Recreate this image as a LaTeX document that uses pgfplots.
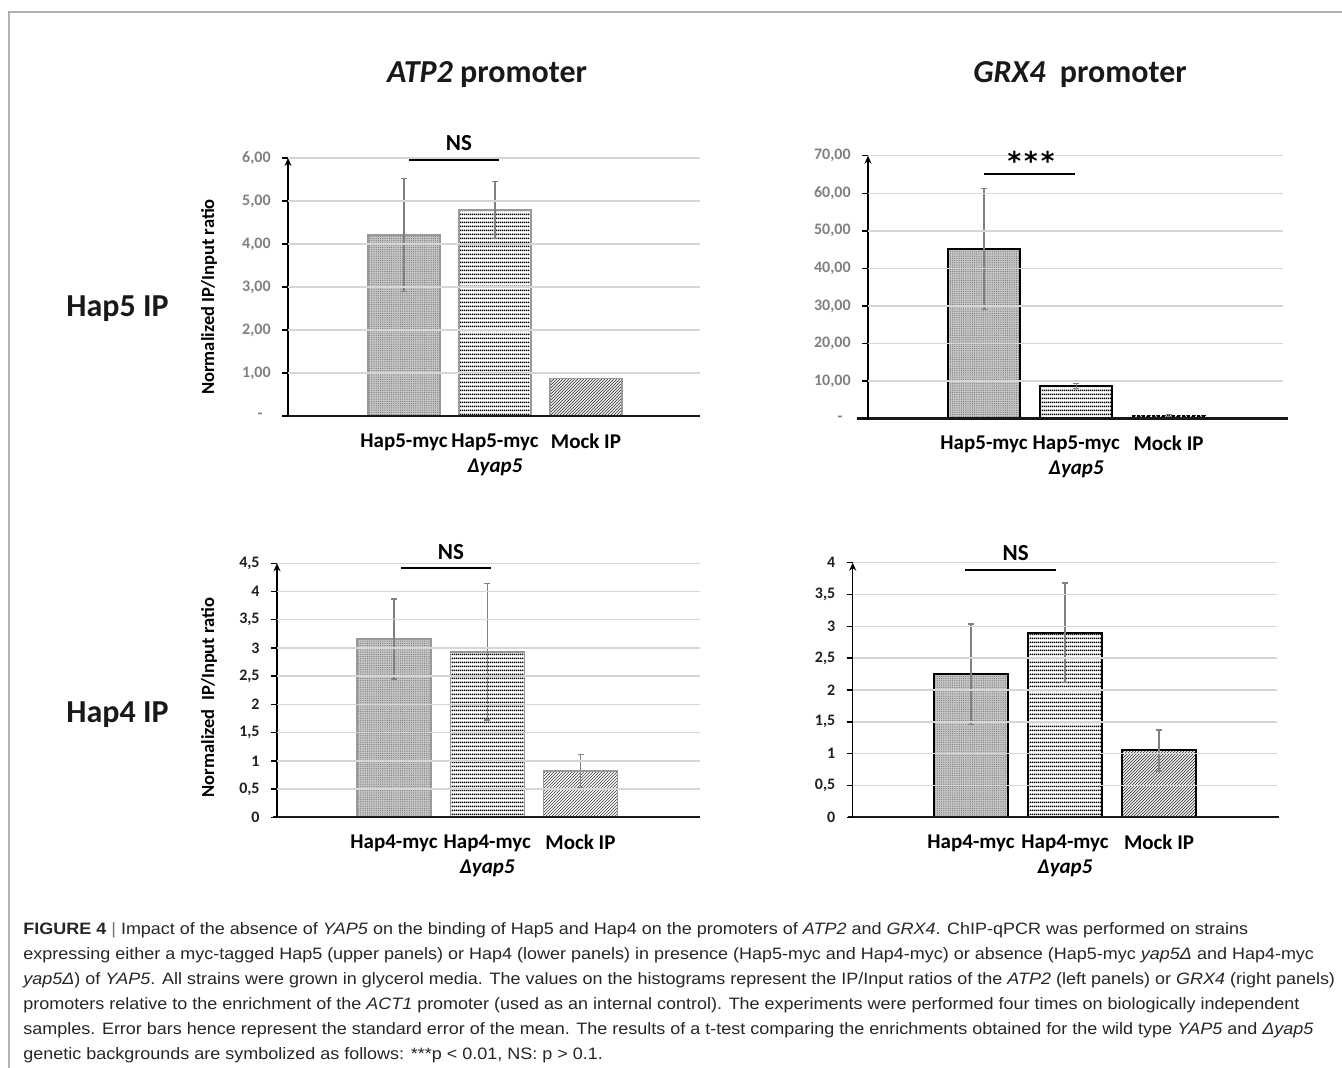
\documentclass[border=0pt]{standalone}
\usepackage{pgfplots}
\pgfplotsset{compat=1.18}
\usepackage{fontspec}
\setmainfont{Carlito}
\newfontfamily\capfont[FakeStretch=1.09]{Liberation Sans}
\newfontfamily\djv{DejaVu Sans}
\usetikzlibrary{patterns,arrows.meta}

\pgfdeclarepatternformonly{fdots}{\pgfpoint{-0.3pt}{-0.3pt}}{\pgfpoint{0.3pt}{0.3pt}}{\pgfpoint{1.1pt}{1.1pt}}{\pgfpathcircle{\pgfpointorigin}{0.3pt}\pgfusepath{fill}}
\pgfdeclarepatternformonly{hlines}{\pgfpoint{0pt}{0pt}}{\pgfpoint{1pt}{2pt}}{\pgfpoint{1pt}{2pt}}{\pgfsetlinewidth{0.8pt}\pgfpathmoveto{\pgfpoint{-0.1pt}{1pt}}\pgfpathlineto{\pgfpoint{1.1pt}{1pt}}\pgfusepath{stroke}}
\pgfdeclarepatternformonly{dlines}{\pgfpoint{-0.1pt}{-0.1pt}}{\pgfpoint{1.6pt}{1.6pt}}{\pgfpoint{1.5pt}{1.5pt}}{\pgfsetlinewidth{0.35pt}\pgfpathmoveto{\pgfpoint{-0.1pt}{-0.1pt}}\pgfpathlineto{\pgfpoint{1.6pt}{1.6pt}}\pgfusepath{stroke}}

\pgfplotsset{
  panel/.style={
    scale only axis, clip=false, axis on top,
    axis line style={draw=none},
    xtick={1,2,3}, xtick style={draw=none},
    ytick pos=left,
    ymajorgrids, grid style={draw=black!16, line width=0.75pt},
    tick align=outside, major tick length=3pt,
    ytick style={draw=black, line width=0.7pt},
    yticklabel style={font=\fontsize{8}{9.6}\selectfont\bfseries, inner sep=0pt, anchor=east, xshift=-5.5pt},
    xticklabel style={font=\fontsize{10.5}{12.5}\selectfont\bfseries, align=center, anchor=north, inner sep=0pt, yshift=-5.5pt},
    extra y tick style={grid=none},
  },
  b1/.style={ybar, bar shift=0pt, fill=black!22, postaction={pattern=fdots, pattern color=black!55}},
  b2/.style={ybar, bar shift=0pt, fill=white, postaction={pattern=hlines, pattern color=black}},
  b3/.style={ybar, bar shift=0pt, fill=white, postaction={pattern=dlines, pattern color=black!75}},
  eb/.style={draw=none, mark=none, forget plot,
    error bars/.cd, y dir=both, y explicit,
    error bar style={draw=black!50, line width=0.75pt, solid},
    error mark options={rotate=90, draw=black!50, mark size=1.5pt, line width=0.75pt}},
}

\begin{document}
\begin{tikzpicture}
\path[use as bounding box] (0,0) rectangle (671pt,534pt);

% ---------------- Panel 1: ATP2, Hap5 IP
\begin{axis}[panel, at={(144pt,326pt)}, anchor=south west, width=206pt, height=129pt,
  xmin=-0.2747, xmax=4.2527, ymin=0, ymax=6,
  ytick={1,2,3,4,5,6}, yticklabels={{1,00},{2,00},{3,00},{4,00},{5,00},{6,00}},
  extra y ticks={0}, extra y tick labels={{-\hspace*{4pt}}},
  yticklabel style={text=black!50},
  xticklabels={Hap5-myc,{Hap5-myc\\\textit{Δyap5}},Mock IP}]
\addplot[b1, bar width=36pt, draw=black!40, line width=0.75pt] coordinates {(1,4.21)};
\addplot[b2, bar width=36pt, draw=black!40, line width=0.75pt] coordinates {(2,4.79)};
\addplot[b3, bar width=36pt, draw=black!40, line width=0.75pt] coordinates {(3,0.87)};
\addplot[eb] coordinates {(1,4.21) +- (0,1.31) (2,4.79) +- (0,0.66)};
\draw[line width=1.2pt, black!90] ([xshift=-2pt]rel axis cs:0,0) -- (rel axis cs:1,0);
\draw[line width=0.75pt, -{Stealth[length=4pt,width=3.5pt]}] (rel axis cs:0,0) -- (rel axis cs:0,1);
\end{axis}

% ---------------- Panel 2: GRX4, Hap5 IP
\begin{axis}[panel, at={(434pt,324.65pt)}, anchor=south west, width=207.5pt, height=131.5pt,
  xmin=-0.2575, xmax=4.241, ymin=0, ymax=70,
  ytick={10,20,30,40,50,60,70}, yticklabels={{10,00},{20,00},{30,00},{40,00},{50,00},{60,00},{70,00}},
  extra y ticks={0}, extra y tick labels={{-\hspace*{4pt}}},
  yticklabel style={text=black!50},
  xticklabels={Hap5-myc,{Hap5-myc\\\textit{Δyap5}},Mock IP}]
\addplot[b1, bar width=36pt, draw=black, line width=1pt] coordinates {(1,45.2)};
\addplot[b2, bar width=36pt, draw=black, line width=1pt] coordinates {(2,8.7)};
\addplot[b3, bar width=36pt, draw=black, line width=1pt, dash pattern=on 1.5pt off 1pt] coordinates {(3,0.8)};
\addplot[eb] coordinates {(1,45.2) +- (0,16.1) (2,8.7) +- (0,0.6) (3,0.8) +- (0,0.3)};
\draw[line width=1.2pt, black!90] ([xshift=-5.5pt]rel axis cs:0,0) -- ([xshift=2.5pt]rel axis cs:1,0);
\draw[line width=0.75pt, -{Stealth[length=4pt,width=3.5pt]}] (rel axis cs:0,0) -- (rel axis cs:0,1);
\end{axis}

% ---------------- Panel 3: ATP2, Hap4 IP
\begin{axis}[panel, at={(138.5pt,125.35pt)}, anchor=south west, width=211.5pt, height=127pt,
  xmin=-0.2547, xmax=4.2815, ymin=0, ymax=4.5,
  ytick={0.5,1,1.5,2,2.5,3,3.5,4,4.5}, yticklabels={{0,5},1,{1,5},2,{2,5},3,{3,5},4,{4,5}},
  extra y ticks={0}, extra y tick labels={0},
  yticklabel style={text=black!88},
  xticklabels={Hap4-myc,{Hap4-myc\\\textit{Δyap5}},Mock IP}]
\addplot[b1, bar width=37pt, draw=black!40, line width=0.75pt] coordinates {(1,3.16)};
\addplot[b2, bar width=37pt, draw=black!40, line width=0.75pt] coordinates {(2,2.93)};
\addplot[b3, bar width=37pt, draw=black!40, line width=0.75pt] coordinates {(3,0.82)};
\addplot[eb] coordinates {(1,3.16) +- (0,0.71) (2,2.93) +- (0,1.21) (3,0.82) +- (0,0.29)};
\draw[line width=1.2pt, black!90] ([xshift=-2pt]rel axis cs:0,0) -- (rel axis cs:1,0);
\draw[line width=0.75pt, -{Stealth[length=4pt,width=3.5pt]}] (rel axis cs:0,0) -- (rel axis cs:0,1);
\end{axis}

% ---------------- Panel 4: GRX4, Hap4 IP
\begin{axis}[panel, at={(426.35pt,125.35pt)}, anchor=south west, width=212.15pt, height=127.3pt,
  xmin=-0.2585, xmax=4.255, ymin=0, ymax=4,
  ytick={0.5,1,1.5,2,2.5,3,3.5,4}, yticklabels={{0,5},1,{1,5},2,{2,5},3,{3,5},4},
  extra y ticks={0}, extra y tick labels={0},
  yticklabel style={text=black!88},
  xticklabels={Hap4-myc,{Hap4-myc\\\textit{Δyap5}},Mock IP}]
\addplot[b1, bar width=37pt, draw=black, line width=1pt] coordinates {(1,2.25)};
\addplot[b2, bar width=37pt, draw=black, line width=1pt] coordinates {(2,2.90)};
\addplot[b3, bar width=37pt, draw=black, line width=1pt] coordinates {(3,1.05)};
\addplot[eb] coordinates {(1,2.25) +- (0,0.79) (2,2.90) +- (0,0.78) (3,1.05) +- (0,0.32)};
\draw[line width=1.2pt, black!90] ([xshift=-2.5pt]rel axis cs:0,0) -- ([xshift=1pt]rel axis cs:1,0);
\draw[line width=0.75pt, -{Stealth[length=4pt,width=3.5pt]}] (rel axis cs:0,0) -- (rel axis cs:0,1);
\end{axis}

% ---------------- annotations in pixel coordinates
\begin{scope}[shift={(0pt,534pt)}, x=0.5pt, y=-0.5pt]
\draw[black!30, line width=0.75pt] (1342,12) -- (9,12) -- (9,1068);
\begin{scope}[font=\fontsize{16}{19}\selectfont\bfseries, text=black!90]
\node at (487,75) {\textit{ATP2} promoter};
\node at (1080,75) {\textit{GRX4}\hspace{0.45em}promoter};
\node at (117.5,309) {Hap5 IP};
\node at (117.5,715) {Hap4 IP};
\end{scope}
\begin{scope}[font=\fontsize{9.25}{11}\selectfont\bfseries]
\node[rotate=90] at (209,297) {Normalized IP/Input ratio};
\node[rotate=90] at (209,697.5) {Normalized\hspace{0.45em}IP/Input ratio};
\end{scope}
\begin{scope}[font=\fontsize{11.5}{13}\selectfont\bfseries]
\draw[line width=1pt] (409,160) -- (499,160);
\node at (459,143) {NS};
\draw[line width=1pt] (984,174) -- (1075,174);
\node[anchor=base, font=\djv\bfseries\fontsize{13}{13}\selectfont] at (1031,171) {*\hspace{1.5pt}*\hspace{1.5pt}*};
\draw[line width=1pt] (401,567.7) -- (491,567.7);
\node at (451,552) {NS};
\draw[line width=1pt] (965,570) -- (1055.7,570);
\node at (1015.7,552.7) {NS};
\end{scope}
\begin{scope}[every node/.style={anchor=base west, inner sep=0pt, font=\capfont\fontsize{8.25}{10}\selectfont, text=black!85}]
\node at (23,935) {\textbf{FIGURE 4} \textcolor{black!55}{|} Impact of the absence of \textit{YAP5} on the binding of Hap5 and Hap4 on the promoters of \textit{ATP2} and \textit{GRX4}. ChIP-qPCR was performed on strains};
\node at (23,960) {expressing either a myc-tagged Hap5 (upper panels) or Hap4 (lower panels) in presence (Hap5-myc and Hap4-myc) or absence (Hap5-myc \textit{yap5Δ} and Hap4-myc};
\node at (23,985) {\textit{yap5Δ}) of \textit{YAP5}. All strains were grown in glycerol media. The values on the histograms represent the IP/Input ratios of the \textit{ATP2} (left panels) or \textit{GRX4} (right panels)};
\node at (23,1010) {promoters relative to the enrichment of the \textit{ACT1} promoter (used as an internal control). The experiments were performed four times on biologically independent};
\node at (23,1035) {samples. Error bars hence represent the standard error of the mean. The results of a t-test comparing the enrichments obtained for the wild type \textit{YAP5} and \textit{Δyap5}};
\node at (23,1060) {genetic backgrounds are symbolized as follows: ***p < 0.01, NS: p > 0.1.};
\end{scope}
\end{scope}
\end{tikzpicture}
\end{document}
